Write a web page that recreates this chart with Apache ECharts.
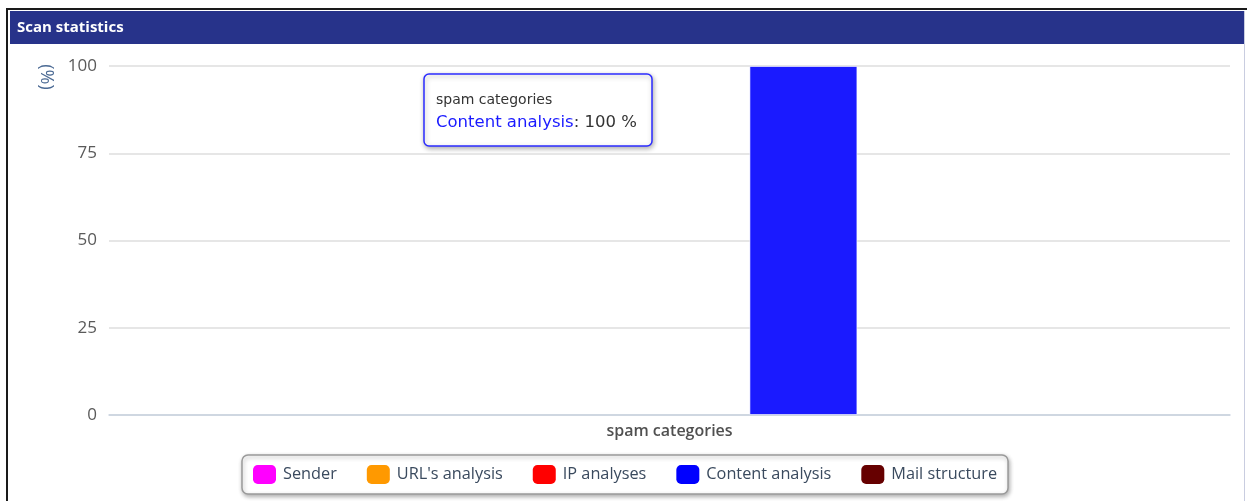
<!DOCTYPE html>
<html>
<head>
<meta charset="utf-8">
<script src="https://cdn.jsdelivr.net/npm/echarts@6/dist/echarts.min.js"></script>
<style>
html,body{margin:0;padding:0;background:#fff;}
#chart{width:1247px;height:501px;}
</style>
</head>
<body>
<div id="chart"></div>
<script>
// ---- data ----
const categories = ['spam categories'];
const seriesNames = ['Sender', "URL's analysis", 'IP analyses', 'Content analysis', 'Mail structure'];
const senderValues = [0];
const urlValues = [0];
const ipValues = [0];
const contentValues = [100];
const mailValues = [0];
const yTicks = [0, 25, 50, 75, 100];
const panelTitle = 'Scan statistics';
const yAxisTitle = '(%)';
const unit = '%';
const highlighted = { series: 3, index: 0 };

// ---- styles ----
const colors = ['#ff00ff', '#ff9900', '#ff0000', '#0000ff', '#660000'];
const hoverColor = '#1a1aff';
const FONT = '"Open Sans", sans-serif';

const allValues = [senderValues, urlValues, ipValues, contentValues, mailValues];

const series = seriesNames.map((name, i) => ({
  name,
  type: 'bar',
  barWidth: 108,
  barGap: '24%',
  itemStyle: { color: colors[i] },
  emphasis: { disabled: true },
  data: allValues[i].map((v, j) =>
    (i === highlighted.series && j === highlighted.index)
      ? { value: v, itemStyle: { color: hoverColor, borderColor: 'rgba(255,255,255,0.6)', borderWidth: 1 } }
      : v)
}));

const tipCat = categories[highlighted.index];
const tipName = seriesNames[highlighted.series];
const tipVal = allValues[highlighted.series][highlighted.index];

const chart = echarts.init(document.getElementById('chart'), null, { renderer: 'canvas' });
chart.setOption({
  animation: false,
  backgroundColor: '#ffffff',
  grid: { left: 109, right: 17, top: 66, bottom: 86, containLabel: false },
  xAxis: {
    type: 'category',
    data: categories,
    axisLine: { show: true, lineStyle: { color: '#c8d2e0', width: 1.5 } },
    axisTick: { show: false },
    axisLabel: { color: '#505050', fontFamily: FONT, fontSize: 16, fontWeight: 600, margin: 8 }
  },
  yAxis: {
    type: 'value',
    min: yTicks[0],
    max: yTicks[yTicks.length - 1],
    interval: yTicks[1] - yTicks[0],
    axisLine: { show: false },
    axisTick: { show: false },
    splitLine: { lineStyle: { color: '#dedede', width: 1.5 } },
    axisLabel: { color: '#5a5a5a', fontFamily: FONT, fontSize: 17, fontWeight: 500, margin: 12 }
  },
  legend: {
    left: 242,
    top: 455,
    itemWidth: 23,
    itemHeight: 19,
    itemGap: 30,
    icon: 'roundRect',
    padding: [10, 11, 10, 11],
    borderColor: '#9a9a9a',
    borderWidth: 1.5,
    borderRadius: 6,
    backgroundColor: '#ffffff',
    shadowColor: 'rgba(0,0,0,0.3)',
    shadowBlur: 4,
    shadowOffsetX: 1,
    shadowOffsetY: 2,
    selectedMode: false,
    textStyle: { color: '#3a4a5e', fontFamily: FONT, fontSize: 16.3, padding: [0, 0, 0, 2] },
    data: seriesNames
  },
  tooltip: { show: false },
  series,
  graphic: [
    // page frame
    { type: 'rect', shape: { x: 6, y: 8, width: 1241, height: 2 }, style: { fill: '#1a1a1a' }, z: 10 },
    { type: 'rect', shape: { x: 6, y: 8, width: 2, height: 493 }, style: { fill: '#1a1a1a' }, z: 10 },
    // title bar
    { type: 'rect', shape: { x: 10, y: 11, width: 1234, height: 33 }, style: { fill: '#27338a' }, z: 10 },
    { type: 'rect', shape: { x: 1244, y: 11, width: 1, height: 490 }, style: { fill: '#c9cde0' }, z: 10 },
    { type: 'text', x: 17, y: 28, z: 11,
      style: { text: panelTitle, fill: '#ffffff', font: 'bold 15px "Open Sans", sans-serif', textVerticalAlign: 'middle' } },
    // y axis title
    { type: 'text', x: 46, y: 77, rotation: -Math.PI / 2, z: 11,
      style: { text: yAxisTitle, fill: '#4b6a94', font: '500 18px "Open Sans", sans-serif', textAlign: 'center', textVerticalAlign: 'middle' } },
    // tooltip
    { type: 'group', z: 20, children: [
      { type: 'rect', shape: { x: 424, y: 74, width: 228, height: 72, r: 5 },
        style: { fill: '#ffffff', stroke: '#2b2bff', lineWidth: 1.5, shadowBlur: 5, shadowOffsetX: 1, shadowOffsetY: 2, shadowColor: 'rgba(0,0,0,0.3)' } },
      { type: 'text', x: 436, y: 100,
        style: { text: tipCat, fill: '#333333', font: '14px "DejaVu Sans", sans-serif', textVerticalAlign: 'middle' } },
      { type: 'text', x: 436, y: 123,
        style: {
          text: '{s|' + tipName + '}{v|: ' + tipVal + ' ' + unit + '}',
          textVerticalAlign: 'middle',
          rich: {
            s: { fill: '#1a1aff', font: '16.5px "DejaVu Sans", sans-serif' },
            v: { fill: '#333333', font: '16.5px "DejaVu Sans", sans-serif' }
          }
        } }
    ] }
  ]
});
</script>
</body>
</html>
